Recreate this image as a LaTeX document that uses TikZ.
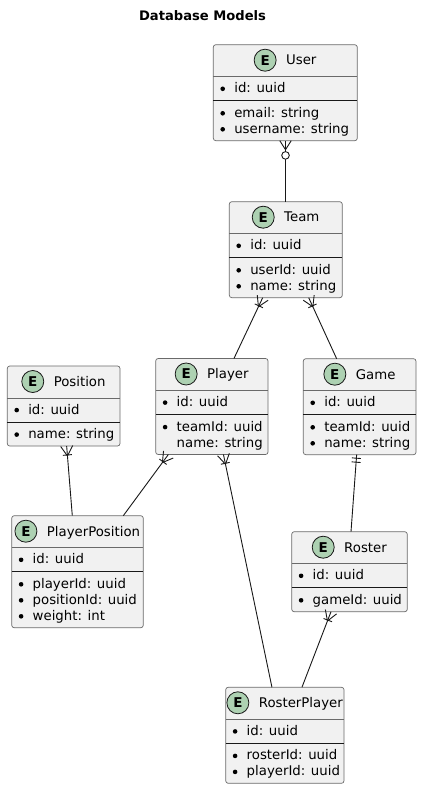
\documentclass[tikz,border=0pt]{standalone}
\usepackage{fontspec}
\setmainfont{DejaVu Sans}
\usetikzlibrary{calc}
\definecolor{bord}{HTML}{181818}
\definecolor{bordlight}{HTML}{6A6A6A}
\definecolor{boxfill}{HTML}{F1F1F1}
\definecolor{egreen}{HTML}{ADD1B2}
\tikzset{
  ebox/.style={draw=bordlight, fill=boxfill, line width=0.7pt, rounded corners=2.5pt, inner sep=0pt, outer sep=0pt},
  hsep/.style={draw=bordlight, line width=0.6pt},
  asep/.style={draw=bord, line width=0.8pt},
  etitle/.style={inner sep=0pt, outer sep=0pt, font=\fontsize{13.3}{16}\selectfont},
  ecircle/.style={circle, draw=bord, fill=egreen, line width=0.8pt, minimum size=22pt, inner sep=0pt, font=\fontsize{13.5}{16}\selectfont\bfseries},
  ftext/.style={inner sep=0pt, outer sep=0pt, font=\fontsize{13.3}{16}\selectfont},
  conn/.style={draw=bord, line width=0.9pt},
  dtitle/.style={inner sep=0pt, outer sep=0pt, font=\fontsize{13.1}{16}\selectfont\bfseries},
}
% #1 name, #2 L, #3 T, #4 R, #5 number of attribute lines, #6 title
\newcommand\entbox[6]{%
  \node[ebox, minimum width={(#4-#2)*1pt}, minimum height={(64+16*#5)*1pt}, anchor=north west] (#1) at ({#2},{#3}) {};
  \draw[hsep] ({#2},{#3+32}) -- ({#4},{#3+32});
  \draw[asep] ({#2},{#3+56}) -- ({#4},{#3+56});
  \node[etitle, anchor=base] (#1-t) at ({(#2+#4)/2+16},{#3+20.3}) {#6};
  \node[ecircle] (#1-c) at ($(#1-t.base west)+(-21,-4.8)$) {E};
}
% id field: #1 name, #2 L, #3 T, #4 text
\newcommand\fid[4]{%
  \fill[black] ({#2+9.4},{#3+48-3.9}) circle (2.3);
  \node[ftext, anchor=base west] (#1) at ({#2+21},{#3+48}) {#4};
}
% attribute field: #1 name, #2 L, #3 T, #4 line number, #5 text
\newcommand\fat[5]{%
  \fill[black] ({#2+9.4},{#3+56.5+16*#4-3.9}) circle (2.3);
  \node[ftext, anchor=base west] (#1) at ({#2+21},{#3+56.5+16*#4}) {#5};
}
\newcommand\fnb[5]{%
  \node[ftext, anchor=base west] (#1) at ({#2+21},{#3+56.5+16*#4}) {#5};
}
% crow foot with bar at #1 pointing toward #2
\newcommand\crowone[2]{%
  \draw[conn] ($(#1)!10pt!(#2)$) -- ($(#1)!6pt!90:(#2)$);
  \draw[conn] ($(#1)!10pt!(#2)$) -- ($(#1)!6pt!-90:(#2)$);
  \draw[conn] ($(#1)!9pt!(#2)!4.5pt!90:(#2)$) -- ($(#1)!9pt!(#2)!4.5pt!-90:(#2)$);
}
% crow foot with circle at #1 toward #2
\newcommand\crowzero[2]{%
  \draw[conn] ($(#1)!9pt!(#2)$) -- ($(#1)!5.7pt!90:(#2)$);
  \draw[conn] ($(#1)!9pt!(#2)$) -- ($(#1)!5.7pt!-90:(#2)$);
  \draw[conn, fill=white] ($(#1)!14.7pt!(#2)$) circle (3.8);
}
% exactly one at #1 toward #2
\newcommand\exone[2]{%
  \draw[conn] ($(#1)!3.5pt!(#2)!4.5pt!90:(#2)$) -- ($(#1)!3.5pt!(#2)!4.5pt!-90:(#2)$);
  \draw[conn] ($(#1)!7.5pt!(#2)!4.5pt!90:(#2)$) -- ($(#1)!7.5pt!(#2)!4.5pt!-90:(#2)$);
}
\begin{document}
\begin{tikzpicture}[x=1pt,y=-1pt]
\useasboundingbox[fill=white] (0,0) rectangle (422,791);
\node[dtitle, anchor=base] (title) at (202.5,20.7) {Database Models};

% User
\entbox{user}{213.3}{44.7}{357.3}{2}{User}
\fid{user-id}{213.3}{44.7}{id: uuid}
\fat{user-a1}{213.3}{44.7}{1}{email: string}
\fat{user-a2}{213.3}{44.7}{2}{username: string}

% Team
\entbox{team}{229.3}{201.7}{342.3}{2}{Team}
\fid{team-id}{229.3}{201.7}{id: uuid}
\fat{team-a1}{229.3}{201.7}{1}{userId: uuid}
\fat{team-a2}{229.3}{201.7}{2}{name: string}

% Position
\entbox{position}{7.3}{366}{120}{1}{Position}
\fid{position-id}{7.3}{366}{id: uuid}
\fat{position-a1}{7.3}{366}{1}{name: string}

% Player
\entbox{player}{155.7}{358.5}{268}{2}{Player}
\fid{player-id}{155.7}{358.5}{id: uuid}
\fat{player-a1}{155.7}{358.5}{1}{teamId: uuid}
\fnb{player-a2}{155.7}{358.5}{2}{name: string}

% Game
\entbox{game}{303.3}{358.7}{416}{2}{Game}
\fid{game-id}{303.3}{358.7}{id: uuid}
\fat{game-a1}{303.3}{358.7}{1}{teamId: uuid}
\fat{game-a2}{303.3}{358.7}{2}{name: string}

% PlayerPosition
\entbox{pp}{11.7}{515.7}{143.3}{3}{PlayerPosition}
\fid{pp-id}{11.7}{515.7}{id: uuid}
\fat{pp-a1}{11.7}{515.7}{1}{playerId: uuid}
\fat{pp-a2}{11.7}{515.7}{2}{positionId: uuid}
\fat{pp-a3}{11.7}{515.7}{3}{weight: int}

% Roster
\entbox{roster}{291.7}{531.7}{407.3}{1}{Roster}
\fid{roster-id}{291.7}{531.7}{id: uuid}
\fat{roster-a1}{291.7}{531.7}{1}{gameId: uuid}

% RosterPlayer
\entbox{rp}{225.7}{687.3}{344}{2}{RosterPlayer}
\fid{rp-id}{225.7}{687.3}{id: uuid}
\fat{rp-a1}{225.7}{687.3}{1}{rosterId: uuid}
\fat{rp-a2}{225.7}{687.3}{2}{playerId: uuid}

% connector end points
\coordinate (c1a) at ($(user.south)+(0.2,0)$);
\coordinate (c1b) at ($(team.north)+(-0.3,0)$);
\coordinate (c2a) at ($(team.south)+(-23.1,0)$);
\coordinate (c2b) at ($(player.north)+(22.1,0)$);
\coordinate (c3a) at ($(team.south)+(22.9,0)$);
\coordinate (c3b) at ($(game.north)+(-23,0)$);
\coordinate (c4a) at ($(position.south)+(3,0)$);
\coordinate (c4b) at ($(pp.north)+(-5.2,0)$);
\coordinate (c5a) at ($(player.south)+(-43.5,0)$);
\coordinate (c5b) at ($(pp.north)+(45.8,0)$);
\coordinate (c6a) at ($(player.south)+(11.6,0)$);
\coordinate (c6b) at ($(rp.north)+(-12.9,0)$);
\coordinate (c7a) at ($(game.south)+(-3,0)$);
\coordinate (c7b) at ($(roster.north)+(1.5,0)$);
\coordinate (c8a) at ($(roster.south)+(-18.5,0)$);
\coordinate (c8b) at ($(rp.north)+(17.1,0)$);

\draw[conn] (c1a) -- (c1b);
\draw[conn] (c2a) -- (c2b);
\draw[conn] (c3a) -- (c3b);
\draw[conn] (c4a) -- (c4b);
\draw[conn] (c5a) -- (c5b);
\draw[conn] (c6a) -- (c6b);
\draw[conn] (c7a) -- (c7b);
\draw[conn] (c8a) -- (c8b);

\crowzero{c1a}{c1b}
\crowone{c2a}{c2b}
\crowone{c3a}{c3b}
\crowone{c4a}{c4b}
\crowone{c5a}{c5b}
\crowone{c6a}{c6b}
\exone{c7a}{c7b}
\crowone{c8a}{c8b}
\end{tikzpicture}
\end{document}
